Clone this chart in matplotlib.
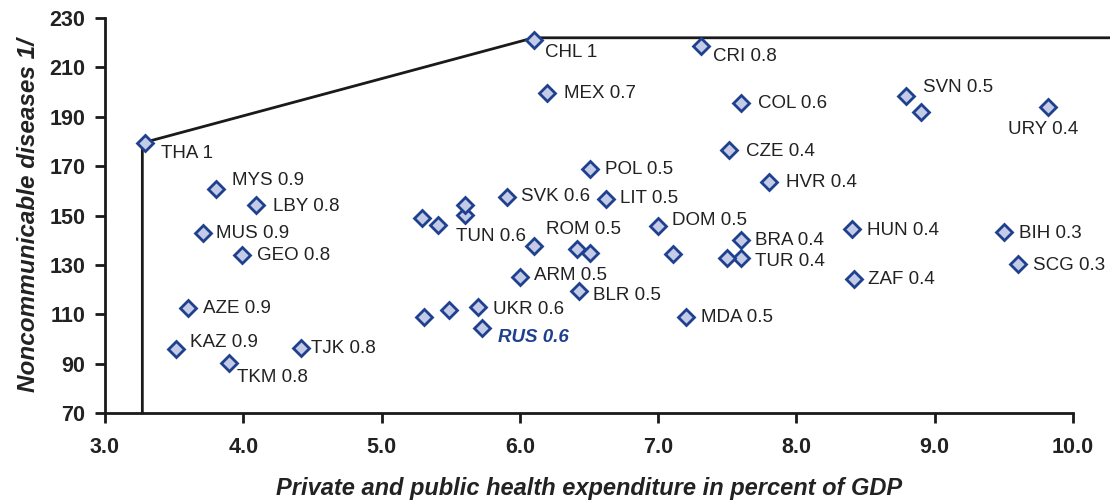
import matplotlib
matplotlib.use("Agg")
import matplotlib.pyplot as plt

plt.rcParams['font.family'] = ['Liberation Sans', 'DejaVu Sans']

# labelled countries: code, health spending (% of GDP), NCD indicator, efficiency score
codes = ["THA", "CHL", "CRI", "MEX", "COL", "SVN", "URY", "CZE", "POL", "HVR",
         "MYS", "LBY", "SVK", "LIT", "TUN", "DOM", "MUS", "HUN", "BIH", "ROM",
         "BRA", "GEO", "TUR", "SCG", "ARM", "ZAF", "BLR", "AZE", "UKR", "RUS",
         "MDA", "KAZ", "TKM", "TJK"]
spend = [3.29, 6.1, 7.31, 6.2, 7.6, 8.79, 9.82, 7.51, 6.51, 7.8,
         3.8, 4.09, 5.91, 6.62, 5.6, 7.0, 3.71, 8.4, 9.5, 6.1,
         7.6, 3.99, 7.6, 9.6, 6.0, 8.42, 6.43, 3.6, 5.7, 5.73,
         7.2, 3.51, 3.9, 4.42]
ncd = [179.4, 221.0, 218.7, 199.6, 195.6, 198.4, 194.0, 176.5, 168.8, 163.6,
       160.7, 154.3, 157.5, 156.7, 150.2, 145.8, 142.9, 144.5, 143.3, 137.7,
       140.0, 134.0, 132.8, 130.4, 125.0, 124.3, 119.4, 112.5, 113.0, 104.4,
       108.9, 96.0, 90.3, 96.3]
scores = ["1", "1", "0.8", "0.7", "0.6", "0.5", "0.4", "0.4", "0.5", "0.4",
          "0.9", "0.8", "0.6", "0.5", "0.6", "0.5", "0.9", "0.4", "0.3", "0.5",
          "0.4", "0.8", "0.4", "0.3", "0.5", "0.4", "0.5", "0.9", "0.6", "0.6",
          "0.5", "0.9", "0.8", "0.8"]

# unlabelled countries
other_spend = [8.9, 5.6, 5.29, 5.41, 6.41, 6.51, 7.11, 7.5, 5.31, 5.49]
other_ncd = [191.9, 154.3, 149.0, 146.2, 136.4, 134.8, 134.4, 132.8, 108.9, 111.7]

# efficiency frontier
frontier_x = [3.27, 3.27, 6.1, 10.3]
frontier_y = [70, 179.4, 222.0, 222.0]

# label offsets in pixels (style only)
offsets = {
    "THA": (16, -11), "CHL": (11, -12), "CRI": (12, -11), "MEX": (17, 0),
    "COL": (17, -1), "SVN": (17, 9), "URY": (-40, -23), "CZE": (17, -1),
    "POL": (15, 0), "HVR": (17, -1), "MYS": (16, 9), "LBY": (17, -2),
    "SVK": (14, 1), "LIT": (14, 0), "TUN": (-9, -21), "DOM": (14, 5),
    "MUS": (13, 0), "HUN": (15, -1), "BIH": (15, -1), "ROM": (12, 16),
    "BRA": (14, 0), "GEO": (15, 0), "TUR": (14, -4), "SCG": (15, -2),
    "ARM": (14, 2), "ZAF": (14, -1), "BLR": (14, -4), "AZE": (15, 0),
    "UKR": (15, -3), "RUS": (16, -9), "MDA": (15, -1), "KAZ": (14, 6),
    "TKM": (8, -15), "TJK": (10, 0),
}

fig = plt.figure(figsize=(11.1, 5.01), dpi=100)
ax = fig.add_axes([0.0946, 0.1756, 0.872, 0.7884])

ax.plot(frontier_x, frontier_y, color="#1a1a1a", lw=2, clip_on=False, zorder=2)

mk = dict(marker="D", ms=8, mfc="#c3cbe6", mec="#1f3f8f", mew=2,
          linestyle="none", clip_on=False, zorder=3)
ax.plot(spend, ncd, **mk)
ax.plot(other_spend, other_ncd, **mk)

for c, xv, yv, s in zip(codes, spend, ncd, scores):
    dx, dy = offsets[c]
    if c == "RUS":
        kw = dict(color="#1f3f8f", fontweight="bold", fontstyle="italic")
    else:
        kw = dict(color="#222222")
    ax.annotate(f"{c} {s}", (xv, yv), xytext=(dx, dy), textcoords="offset pixels",
                ha="left", va="center", fontsize=13.5, zorder=4, **kw)

ax.set_xlim(3.0, 10.0)
ax.set_ylim(70, 230)
ax.set_xticks([3, 4, 5, 6, 7, 8, 9, 10])
ax.set_xticklabels([f"{v:.1f}" for v in range(3, 11)])
ax.set_yticks(range(70, 231, 20))

for side in ["top", "right"]:
    ax.spines[side].set_visible(False)
for side in ["left", "bottom"]:
    ax.spines[side].set_linewidth(2)
    ax.spines[side].set_color("#1a1a1a")

ax.tick_params(axis="both", direction="out", length=7, width=2, color="#1a1a1a",
               labelsize=15.5, labelcolor="#222222")
for lab in ax.get_xticklabels() + ax.get_yticklabels():
    lab.set_fontweight("bold")
ax.tick_params(axis="x", pad=10)
ax.tick_params(axis="y", pad=7)

ax.set_xlabel("Private and public health expenditure in percent of GDP",
              fontsize=17, fontweight="bold", fontstyle="italic", color="#222222",
              labelpad=14)
ax.set_ylabel("Noncommunicable diseases 1/", fontsize=17.5, fontweight="bold",
              fontstyle="italic", color="#222222", labelpad=7)

fig.savefig("out.png", dpi=100)
